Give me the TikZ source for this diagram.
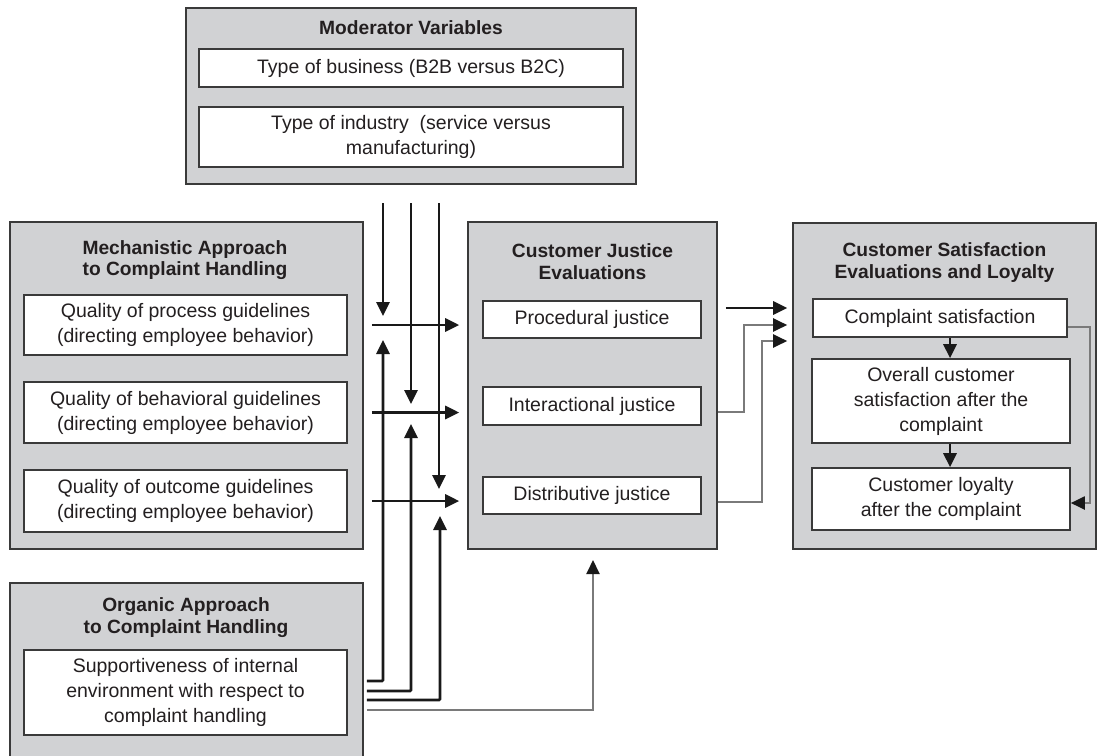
\documentclass[tikz,border=0pt]{standalone}
\usepackage{fontspec}
\setmainfont{Liberation Sans}
\usetikzlibrary{arrows.meta}

\definecolor{panelfill}{HTML}{D1D2D4}
\definecolor{edge}{HTML}{3A3A3A}
\definecolor{ink}{HTML}{231F20}
\definecolor{softline}{HTML}{7A7A7A}

\tikzset{
  panel/.style={draw=edge, fill=panelfill, line width=1.6pt, inner sep=0pt},
  item/.style={draw=edge, fill=white, line width=1.6pt, inner sep=0pt, align=center,
    text=ink, font=\fontsize{19.5}{25}\selectfont},
  heading/.style={align=center, text=ink, inner sep=0pt,
    font=\bfseries\fontsize{19.2}{21.5}\selectfont},
  link/.style={line width=2.8pt, draw=black!90, -{Triangle[length=14pt,width=13pt]}},
  softlink/.style={line width=2pt, draw=softline,
    -{Triangle[length=14pt,width=13pt,color=black!90]}},
}

\begin{document}
\begin{tikzpicture}[x=1pt, y=-1pt]
\useasboundingbox (0,0) rectangle (1105,755);
\clip (0,0) rectangle (1105,755);

% ---------- moderator variables ----------
\node[panel, minimum width=450pt, minimum height=176pt] (mod) at (411,96) {};
\node[heading] (modt) at (411,28) {Moderator Variables};
\node[item, minimum width=424pt, minimum height=38pt] (biz) at (411,68)
  {Type of business (B2B versus B2C)};
\node[item, minimum width=424pt, minimum height=60pt] (ind) at (411,137)
  {Type of industry~ (service versus\\manufacturing)};

% ---------- mechanistic approach ----------
\node[panel, minimum width=353pt, minimum height=327pt] (mech) at (186.5,385.5) {};
\node[heading] (mecht) at (185,260) {Mechanistic Approach\\to Complaint Handling};
\node[item, minimum width=323pt, minimum height=60pt] (q1) at (185.5,325)
  {Quality of process guidelines\\(directing employee behavior)};
\node[item, minimum width=323pt, minimum height=61pt] (q2) at (185.5,412.5)
  {Quality of behavioral guidelines\\(directing employee behavior)};
\node[item, minimum width=323pt, minimum height=62pt] (q3) at (185.5,501)
  {Quality of outcome guidelines\\(directing employee behavior)};

% ---------- customer justice evaluations ----------
\node[panel, minimum width=249pt, minimum height=327pt] (just) at (592.5,385.5) {};
\node[heading] (justt) at (592.5,261.5) {Customer Justice\\Evaluations};
\node[item, minimum width=218pt, minimum height=37pt] (pj) at (592,319.5) {Procedural justice};
\node[item, minimum width=218pt, minimum height=38pt] (ij) at (592,406) {Interactional justice};
\node[item, minimum width=218pt, minimum height=37pt] (dj) at (592,495.5) {Distributive justice};

% ---------- satisfaction and loyalty ----------
\node[panel, minimum width=303pt, minimum height=326pt] (sat) at (944.5,386) {};
\node[heading] (satt) at (944.5,262.5) {Customer Satisfaction\\Evaluations and Loyalty};
\node[item, minimum width=254pt, minimum height=38pt] (cs) at (940,318) {Complaint satisfaction};
\node[item, minimum width=258pt, minimum height=84pt] (ov) at (941,401)
  {Overall customer\\satisfaction after the\\complaint};
\node[item, minimum width=258pt, minimum height=62pt] (lo) at (941,499)
  {Customer loyalty\\after the complaint};

% ---------- organic approach ----------
\node[panel, minimum width=353pt, minimum height=187pt] (org) at (186.5,676.5) {};
\node[heading] (orgt) at (186,617.5) {Organic Approach\\to Complaint Handling};
\node[item, minimum width=323pt, minimum height=85pt] (sup) at (185.5,692.5)
  {Supportiveness of internal\\environment with respect to\\complaint handling};

% ---------- routing points ----------
\coordinate (m1) at (383,203);  \coordinate (m1e) at (383,316);
\coordinate (m2) at (411,203);  \coordinate (m2e) at (411,404);
\coordinate (m3) at (439,203);  \coordinate (m3e) at (439,489);
\coordinate (o1) at (383,681);  \coordinate (o1e) at (383,340);
\coordinate (o2) at (411,691);  \coordinate (o2e) at (411,424);
\coordinate (o3) at (440,700);  \coordinate (o3e) at (440,516);
\coordinate (o4) at (593,710);  \coordinate (o4e) at (593,560);
\coordinate (r1) at (0,308);
\coordinate (r2) at (0,325);
\coordinate (r3) at (0,341);
\coordinate (g1) at (744,412);
\coordinate (g2) at (762,502);
\coordinate (dn) at (950,0);
\coordinate (sr) at (1090,503);

% moderators acting on the three links
\draw[link] (m1) -- (m1e);
\draw[link] (m2) -- (m2e);
\draw[link] (m3) -- (m3e);

% guidelines to justice evaluations
\draw[link] ([xshift=8pt]mech.east |- q1.east) -- ([xshift=-8pt]just.west |- q1.east);
\draw[link] ([xshift=8pt]mech.east |- q2.east) -- ([xshift=-8pt]just.west |- q2.east);
\draw[link] ([xshift=8pt]mech.east |- q3.east) -- ([xshift=-8pt]just.west |- q3.east);

% organic approach acting on the links and on justice
\draw[link, rounded corners=1pt] ([xshift=3pt]org.east |- o1) -- (o1) -- (o1e);
\draw[link, rounded corners=1pt] ([xshift=3pt]org.east |- o2) -- (o2) -- (o2e);
\draw[link, rounded corners=1pt] ([xshift=3pt]org.east |- o3) -- (o3) -- (o3e);
\draw[softlink] ([xshift=3pt]org.east |- o4) -- (o4) -- (o4e);

% justice to complaint satisfaction
\draw[link] ([xshift=8pt]just.east |- r1) -- ([xshift=-5pt]sat.west |- r1);
\draw[softlink] (just.east |- g1) -- (g1) |- ([xshift=-5pt]sat.west |- r2);
\draw[softlink] (just.east |- g2) -- (g2) |- ([xshift=-5pt]sat.west |- r3);

% satisfaction chain
\draw[link] (cs.south -| dn) -- (ov.north -| dn);
\draw[link] (ov.south -| dn) -- (lo.north -| dn);
\draw[softlink] ([yshift=-9pt]cs.east) -| (sr) -- (lo.east |- sr);
\end{tikzpicture}
\end{document}
